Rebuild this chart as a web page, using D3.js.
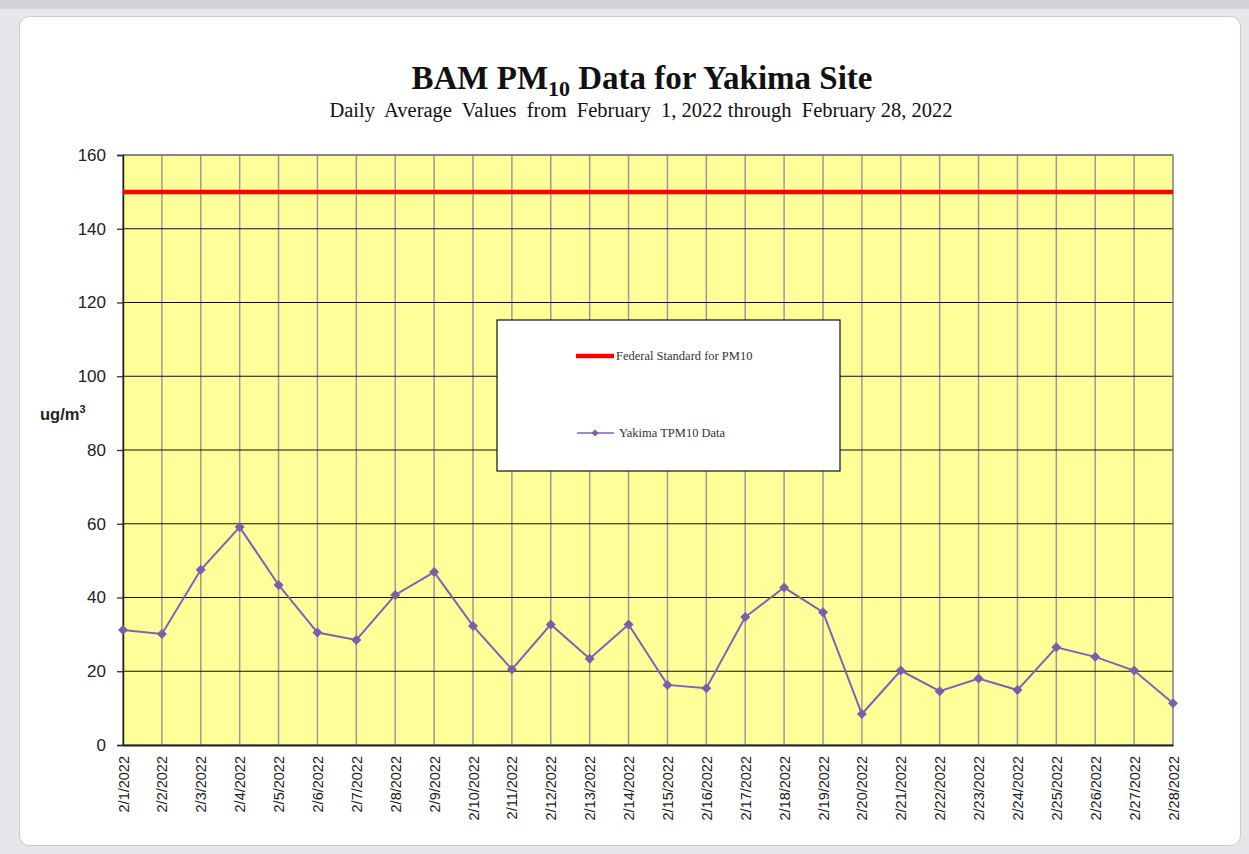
<!DOCTYPE html>
<html><head><meta charset="utf-8">
<script src="https://cdn.jsdelivr.net/npm/d3@7"></script>
<style>body{margin:0;background:#e4e5e8;}svg{display:block;}</style>
</head><body>
<script>
const dates = ["2/1/2022","2/2/2022","2/3/2022","2/4/2022","2/5/2022","2/6/2022","2/7/2022","2/8/2022","2/9/2022","2/10/2022","2/11/2022","2/12/2022","2/13/2022","2/14/2022","2/15/2022","2/16/2022","2/17/2022","2/18/2022","2/19/2022","2/20/2022","2/21/2022","2/22/2022","2/23/2022","2/24/2022","2/25/2022","2/26/2022","2/27/2022","2/28/2022"];
const pm10 = [31.2,30.1,47.5,59.1,43.4,30.5,28.5,40.7,46.9,32.3,20.5,32.7,23.4,32.7,16.3,15.4,34.7,42.7,36.0,8.4,20.2,14.6,18.0,14.9,26.5,23.9,20.2,11.3];
const federalStandard = 150;
const yTicks = [0,20,40,60,80,100,120,140,160];
const seriesNames = ["Federal Standard for PM10","Yakima TPM10 Data"];

const W = 1249, H = 854;
const svg = d3.select("body").append("svg").attr("width", W).attr("height", H);

// frame
svg.append("rect").attr("x",0).attr("y",0).attr("width",W).attr("height",H).attr("fill","#e6e7ea");
svg.append("rect").attr("x",0).attr("y",0).attr("width",W).attr("height",9).attr("fill","#d2d4d9");
svg.append("rect").attr("x",19.5).attr("y",16.5).attr("width",1221).attr("height",829)
  .attr("rx",10).attr("fill","#fff").attr("stroke","#c9cacd").attr("stroke-width",1);

const m = {l:123, r:1173, t:155, b:745};
const x = d3.scalePoint().domain(dates).range([m.l, m.r]);
const y = d3.scaleLinear().domain([0,160]).range([m.b, m.t]);

// plot background
svg.append("rect").attr("x",m.l).attr("y",m.t).attr("width",m.r-m.l).attr("height",m.b-m.t).attr("fill","#ffff99");

// vertical grid
svg.append("g").selectAll("line").data(dates).join("line")
  .attr("x1",d=>x(d)).attr("x2",d=>x(d)).attr("y1",m.t).attr("y2",m.b)
  .attr("stroke","#9a9a9a").attr("stroke-width",1.5);

// horizontal grid
svg.append("g").selectAll("line").data(yTicks.slice(1)).join("line")
  .attr("x1",m.l).attr("x2",m.r).attr("y1",d=>y(d)).attr("y2",d=>y(d))
  .attr("stroke","#111").attr("stroke-width",1.2);

// plot border
svg.append("rect").attr("x",m.l).attr("y",m.t).attr("width",m.r-m.l).attr("height",m.b-m.t)
  .attr("fill","none").attr("stroke","#888").attr("stroke-width",1);

// y axis
const yAxis = svg.append("g").attr("transform",`translate(${m.l},0)`)
  .call(d3.axisLeft(y).tickValues(yTicks).tickSize(6).tickPadding(11));
yAxis.select(".domain").attr("stroke","#222").attr("stroke-width",1.5);
yAxis.selectAll(".tick line").attr("stroke","#222").attr("stroke-width",1.2);
yAxis.selectAll("text").attr("font-family","Arial, 'Liberation Sans', sans-serif").attr("font-size",17).attr("fill","#222");

// x axis
const xAxis = svg.append("g").attr("transform",`translate(0,${m.b})`)
  .call(d3.axisBottom(x).tickSize(0).tickPadding(0));
xAxis.select(".domain").attr("stroke","#222").attr("stroke-width",2);
xAxis.selectAll("text")
  .attr("font-family","Arial, 'Liberation Sans', sans-serif").attr("font-size",14.5).attr("fill","#1a1a1a")
  .attr("text-anchor","end").attr("dy",null).attr("y",0)
  .attr("transform","translate(5,11) rotate(-90)");

// federal standard
svg.append("line").attr("x1",m.l).attr("x2",m.r).attr("y1",y(federalStandard)).attr("y2",y(federalStandard))
  .attr("stroke","#ff0000").attr("stroke-width",4.5);

// data line
const line = d3.line().x((d,i)=>x(dates[i])).y(d=>y(d));
svg.append("path").datum(pm10).attr("d",line).attr("fill","none").attr("stroke","#7a64b4").attr("stroke-width",2);
const diamond = d3.symbol().type(d3.symbolSquare).size(50);
svg.append("g").selectAll("path").data(pm10).join("path")
  .attr("d",diamond).attr("transform",(d,i)=>`translate(${x(dates[i])},${y(d)}) rotate(45)`)
  .attr("fill","#7a5fa8");

// title
svg.append("text").attr("x",642).attr("y",89).attr("text-anchor","middle")
  .attr("font-family","'Liberation Serif','Times New Roman',serif").attr("font-weight","bold").attr("font-size",33).attr("fill","#111")
  .call(t=>{
    t.append("tspan").text("BAM PM");
    t.append("tspan").text("10").attr("font-size",22).attr("dy",7);
    t.append("tspan").text(" Data for Yakima  Site").attr("dy",-7);
  });
svg.append("text").attr("x",641).attr("y",117).attr("text-anchor","middle")
  .attr("font-family","'Liberation Serif','Times New Roman',serif").attr("font-size",20.5).attr("fill","#111")
  .attr("xml:space","preserve").style("white-space","pre")
  .text("Daily  Average  Values  from  February  1, 2022 through  February 28, 2022");

// y label
svg.append("text").attr("x",40).attr("y",420)
  .attr("font-family","Arial, 'Liberation Sans', sans-serif").attr("font-weight","bold").attr("font-size",16.5).attr("fill","#222")
  .call(t=>{
    t.append("tspan").text("ug/m");
    t.append("tspan").text("3").attr("font-size",11).attr("dy",-7);
  });

// legend
const lg = svg.append("g");
lg.append("rect").attr("x",497).attr("y",320).attr("width",343).attr("height",151).attr("fill","#fff").attr("stroke","#111").attr("stroke-width",1.2);
lg.append("line").attr("x1",576).attr("x2",614).attr("y1",356).attr("y2",356).attr("stroke","#ff0000").attr("stroke-width",4.5);
lg.append("text").attr("x",616).attr("y",360).text(seriesNames[0])
  .attr("font-family","'Liberation Serif','Times New Roman',serif").attr("font-size",12.5).attr("fill","#333");
lg.append("line").attr("x1",577).attr("x2",614).attr("y1",433).attr("y2",433).attr("stroke","#7a64b4").attr("stroke-width",1.5);
lg.append("path").attr("d",d3.symbol().type(d3.symbolSquare).size(25)).attr("transform","translate(595,433) rotate(45)").attr("fill","#7a5fa8");
lg.append("text").attr("x",619).attr("y",437).text(seriesNames[1])
  .attr("font-family","'Liberation Serif','Times New Roman',serif").attr("font-size",12.5).attr("fill","#333");
</script>
</body></html>
